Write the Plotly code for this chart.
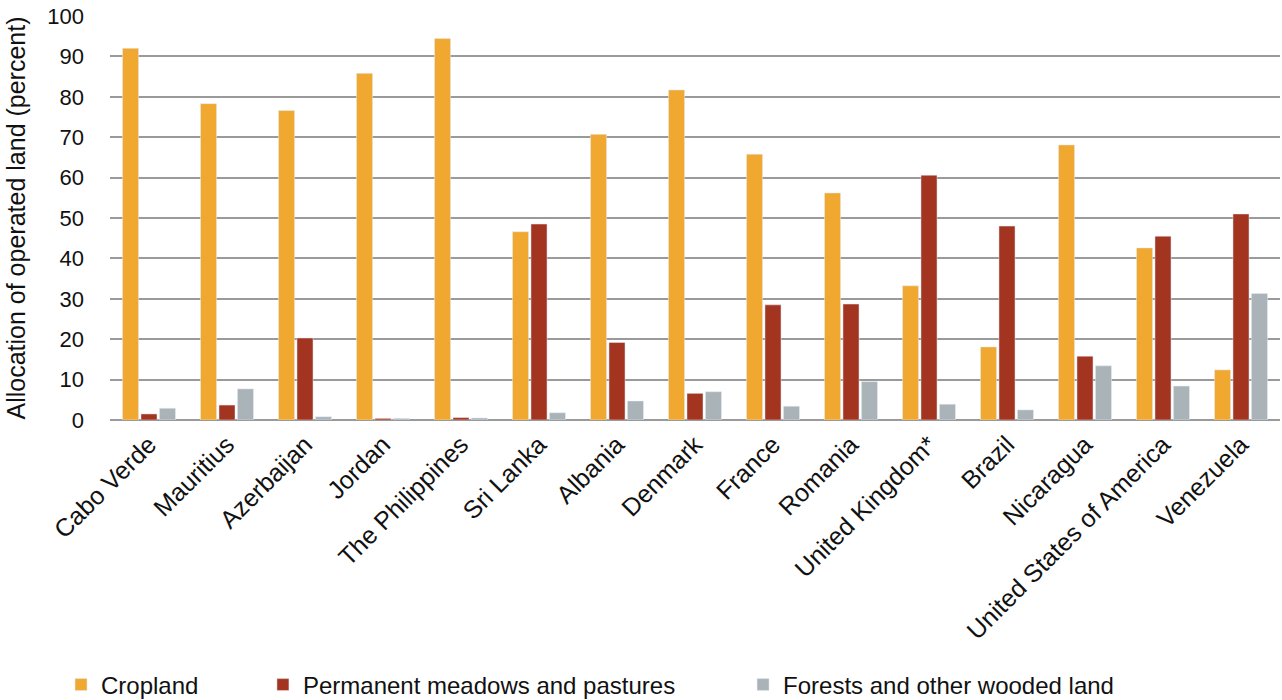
import plotly.graph_objects as go

countries = ["Cabo Verde", "Mauritius", "Azerbaijan", "Jordan", "The Philippines", "Sri Lanka",
             "Albania", "Denmark", "France", "Romania", "United Kingdom*", "Brazil",
             "Nicaragua", "United States of America", "Venezuela"]
cropland = [92.0, 78.3, 76.6, 85.8, 94.4, 46.6, 70.7, 81.7, 65.8, 56.2, 33.2, 18.1, 68.1, 42.6, 12.4]
pastures = [1.5, 3.7, 20.3, 0.4, 0.6, 48.5, 19.2, 6.6, 28.5, 28.7, 60.6, 48.0, 15.8, 45.5, 51.0]
forests = [2.9, 7.7, 0.8, 0.4, 0.5, 1.8, 4.7, 7.0, 3.4, 9.5, 3.9, 2.5, 13.4, 8.4, 31.3]
yticks = [0, 10, 20, 30, 40, 50, 60, 70, 80, 90, 100]

FONT = "Liberation Sans, Arial, sans-serif"
fig = go.Figure()
fig.add_trace(go.Bar(x=countries, y=cropland, name="Cropland", marker_color="#F0A830", legend="legend"))
fig.add_trace(go.Bar(x=countries, y=pastures, name="Permanent meadows and pastures", marker_color="#A3341F", legend="legend2"))
fig.add_trace(go.Bar(x=countries, y=forests, name="Forests and other wooded land", marker_color="#AAB3B8", legend="legend3"))

leg_common = dict(orientation="h", xref="container", yref="container", yanchor="middle", y=0.0214,
                  xanchor="left", font=dict(size=24, family=FONT, color="#111"),
                  bgcolor="rgba(0,0,0,0)")
fig.update_layout(
    width=1282, height=700,
    showlegend=True,
    margin=dict(l=110, r=2, t=16, b=280),
    plot_bgcolor="white", paper_bgcolor="white",
    barmode="group", bargap=0.29, bargroupgap=0.13,
    font=dict(family=FONT, size=22, color="#111"),
    legend=dict(x=0.0476, **leg_common),
    legend2=dict(x=0.2051, **leg_common),
    legend3=dict(x=0.5796, **leg_common),
    xaxis=dict(tickangle=-45, tickfont=dict(size=25), showgrid=False, showline=False, ticks="",
               automargin=False, ticklabelstandoff=4),
    yaxis=dict(range=[0, 100], tickvals=yticks, showgrid=True, gridcolor="#9a9a9a", gridwidth=1.5,
               zeroline=True, zerolinecolor="#9a9a9a", zerolinewidth=1.5, showline=False,
               tickfont=dict(size=22), ticklabelstandoff=25, automargin=False,
               title=dict(text="Allocation of operated land (percent)", font=dict(size=25), standoff=14)),
)
fig.write_html("out.html", config={"displayModeBar": False},
               post_script="document.body.style.margin='0';")
